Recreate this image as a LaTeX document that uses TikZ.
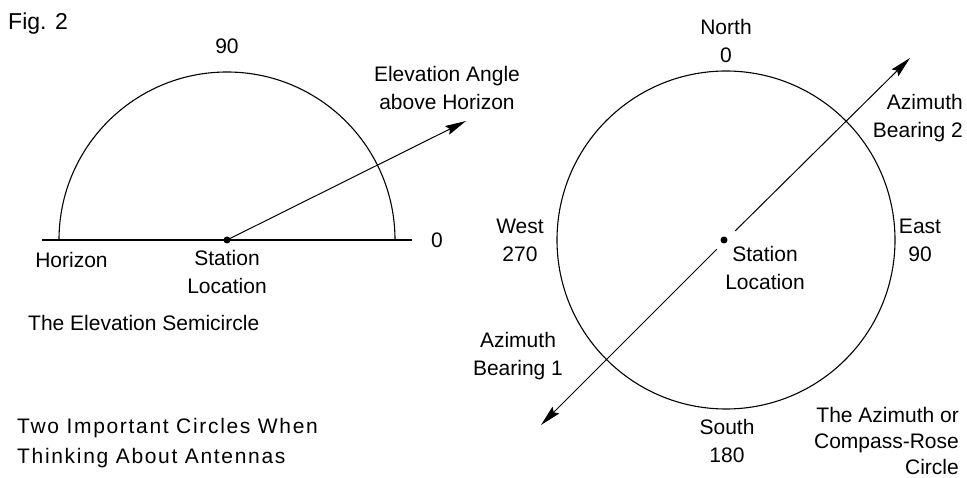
\documentclass[tikz,border=0pt]{standalone}
\usepackage{fontspec}
\setmainfont{Liberation Sans}
\usetikzlibrary{arrows.meta}
\begin{document}
\begin{tikzpicture}[x=1pt,y=-1pt,
  lbl/.style={inner sep=0pt,font=\fontsize{21}{28}\selectfont,align=center},
  curve/.style={line width=1.1pt},
  ray/.style={line width=1pt,-{Stealth[length=21pt,width=9.5pt,inset=3pt]}},
  dot/.style={circle,fill=black,inner sep=0pt,minimum size=7pt}]
\path[use as bounding box] (0,0) rectangle (967,478);
% ---------- elevation semicircle ----------
\coordinate (L) at (227,240);
\coordinate (hl) at (42,240);
\coordinate (hr) at (412,240);
\coordinate (etip) at (466,121);
\draw[curve] (hl) -- (hr);
\draw[curve] (L) ++(168pt,0) arc[start angle=0,end angle=180,radius=168pt];
\draw[ray] (L) -- (etip);
\node[dot] (Ldot) at (L) {};
\node[lbl,anchor=west,font=\fontsize{23}{28}\selectfont] (fig) at (8,24) {Fig. 2};
\node[lbl] (e90) at (227,46) {90};
\node[lbl] (elev) at (447,88) {Elevation Angle\\above Horizon};
\node[lbl] (e0) at (437,240) {0};
\node[lbl] (hor) at (71.5,260) {Horizon};
\node[lbl] (lst) at (227,272) {Station\\Location};
\node[lbl,anchor=west] (esc) at (28,323) {The Elevation Semicircle};
\node[lbl,anchor=west,align=left,font=\fontsize{21}{30}\selectfont\addfontfeature{LetterSpace=8}] (title) at (17,443) {Two Important Circles When\\Thinking About Antennas};
% ---------- azimuth circle ----------
\coordinate (R) at (726,240);
\coordinate (t2) at (910,58);
\coordinate (t1) at (541,425);
\draw[curve] (R) circle[radius=169pt];
\draw[ray,shorten <=13pt] (R) -- (t2);
\draw[ray,shorten <=13pt] (R) -- (t1);
\node[dot] (Rdot) at (724,240) {};
\node[lbl] (north) at (726,41) {North\\0};
\node[lbl,anchor=east,align=right] (az2) at (963,118) {Azimuth\\Bearing 2};
\node[lbl] (west) at (520,240) {West\\270};
\node[lbl] (east) at (920,240) {East\\90};
\node[lbl] (rst) at (765,268) {Station\\Location};
\node[lbl] (az1) at (518,356) {Azimuth\\Bearing 1};
\node[lbl] (south) at (727,441) {South\\180};
\node[lbl,anchor=east,align=right,font=\fontsize{21}{26}\selectfont] (cap) at (959,441) {The Azimuth or\\Compass-Rose\\Circle};
\end{tikzpicture}
\end{document}
